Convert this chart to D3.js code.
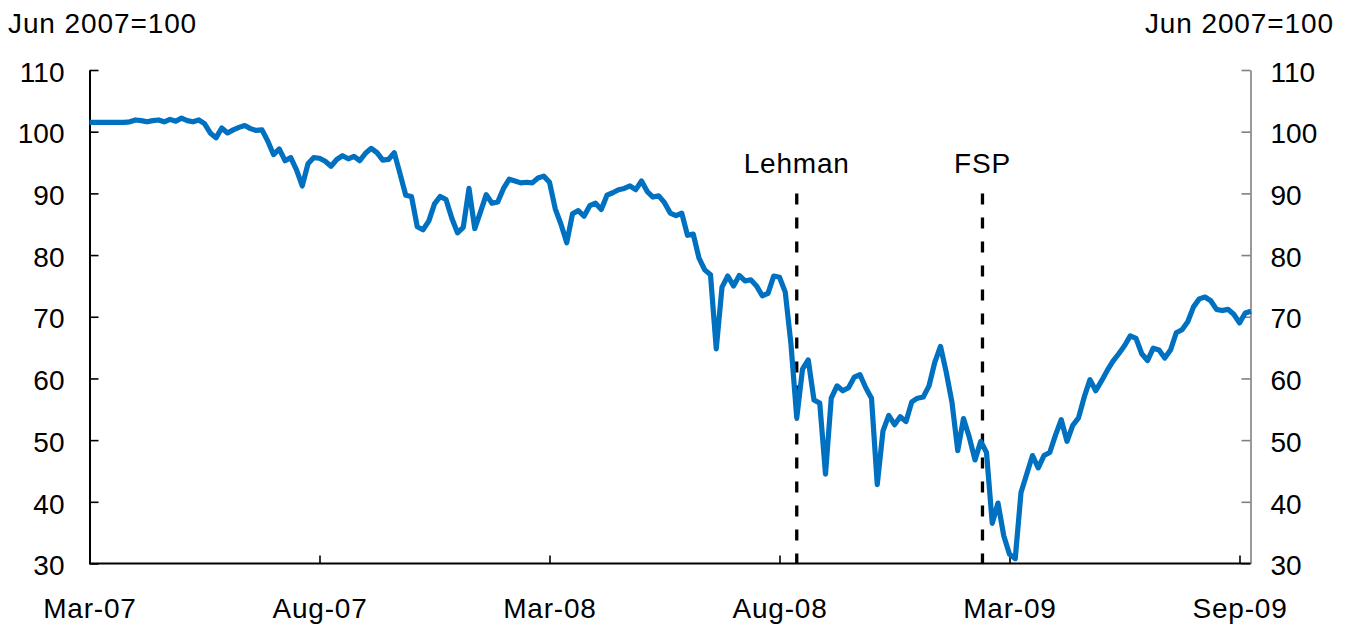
<!DOCTYPE html>
<html>
<head>
<meta charset="utf-8">
<script src="https://cdn.jsdelivr.net/npm/d3@7"></script>
<style>
  body { margin: 0; background: #fff; }
  svg text { font-family: "Liberation Sans", Arial, sans-serif; fill: #000; }
</style>
</head>
<body>
<div class="chart-container"></div>
<script>
// index values, Jun 2007 = 100 (one value per step along the category axis)
var indexValues = [
  101.5, 101.5, 101.5, 101.5, 101.5, 101.5, 101.5, 101.6, 101.9, 101.8,
  101.6, 101.8, 101.9, 101.6, 102.0, 101.7, 102.2, 101.8, 101.6, 101.9,
  101.3, 99.8, 99.0, 100.6, 99.8, 100.3, 100.7, 101.0, 100.5, 100.2,
  100.3, 98.5, 96.3, 97.2, 95.3, 95.8, 93.8, 91.2, 94.8, 95.8,
  95.7, 95.2, 94.4, 95.5, 96.1, 95.6, 96.0, 95.3, 96.5, 97.3,
  96.6, 95.4, 95.5, 96.6, 93.2, 89.7, 89.5, 84.6, 84.1, 85.5,
  88.3, 89.5, 89.0, 86.0, 83.6, 84.5, 90.8, 84.3, 87.0, 89.8,
  88.4, 88.6, 90.8, 92.3, 92.0, 91.7, 91.8, 91.7, 92.5, 92.8,
  91.8, 87.5, 85.0, 82.0, 86.7, 87.2, 86.3, 88.0, 88.4, 87.4,
  89.7, 90.1, 90.6, 90.8, 91.2, 90.6, 92.0, 90.3, 89.4, 89.6,
  88.5, 86.8, 86.4, 86.8, 83.2, 83.4, 79.5, 77.6, 76.8, 64.8,
  74.8, 76.6, 75.0, 76.7, 75.8, 76.0, 75.0, 73.4, 73.8, 76.6,
  76.4, 74.0, 65.5, 53.6, 61.5, 63.0, 56.5, 56.0, 44.5, 56.8,
  58.8, 58.0, 58.5, 60.2, 60.6, 58.5, 56.8, 42.8, 51.5, 54.0,
  52.5, 53.8, 53.0, 56.2, 56.8, 57.0, 58.8, 62.6, 65.2, 61.0,
  56.1, 48.3, 53.5, 50.5, 46.8, 49.8, 48.0, 36.5, 39.8, 34.5,
  31.5, 30.8, 41.5, 44.5, 47.5, 45.5, 47.5, 48.0, 50.8, 53.3,
  49.8, 52.4, 53.6, 57.0, 59.8, 58.0, 59.6, 61.3, 62.8, 64.0,
  65.3, 66.9, 66.5, 64.0, 62.9, 64.9, 64.6, 63.3, 64.6, 67.4,
  67.9, 69.2, 71.6, 72.9, 73.2, 72.6, 71.2, 71.0, 71.2, 70.4,
  69.0, 70.6, 70.9
];

// category axis labels and the step at which each one sits
var tickLabels = ["Mar-07", "Aug-07", "Mar-08", "Aug-08", "Mar-09", "Sep-09"];
var tickSteps = [0, 40, 80, 120, 160, 200];

var yTicks = [30, 40, 50, 60, 70, 80, 90, 100, 110];

// event markers
var eventNames = ["Lehman", "FSP"];
var eventSteps = [123, 155.3];
var eventTop = 90;

var unitLabel = "Jun 2007=100";

function buildChart() {

  // -------------------------------------------------------------------------
  // ---------------------------- LAYOUT -------------------------------------
  // -------------------------------------------------------------------------

  var width = 1349,
      height = 627,
      plotLeft = 89.5,
      plotRight = 1250.5,
      plotTop = 70,
      plotBottom = 563.5,
      fontSize = 28;

  var svg = d3.select(".chart-container").append("svg")
      .attr("width", width)
      .attr("height", height);

  var xScale = d3.scaleLinear().domain([0, 200]).range([plotLeft, 1239.5]);
  var yScale = d3.scaleLinear().domain([30, 110]).range([plotBottom, plotTop]);

  // left axis
  var yaxisLeft = d3.axisLeft(yScale)
      .tickValues(yTicks)
      .tickSizeInner(-9)
      .tickSizeOuter(0)
      .tickPadding(25);

  var gl = svg.append("g")
      .attr("transform", "translate(" + plotLeft + ",0)")
      .call(yaxisLeft);
  gl.select(".domain").attr("stroke", "#000").attr("stroke-width", 2);
  gl.selectAll(".tick line").attr("stroke", "#000").attr("stroke-width", 1.6);
  gl.selectAll(".tick text")
      .attr("dy", "0.4em")
      .style("font-size", fontSize + "px");

  // right axis
  var yaxisRight = d3.axisRight(yScale)
      .tickValues(yTicks)
      .tickSizeInner(-9)
      .tickSizeOuter(0)
      .tickPadding(20);

  var gr = svg.append("g")
      .attr("transform", "translate(" + plotRight + ",0)")
      .call(yaxisRight);
  gr.select(".domain").attr("stroke", "#808080").attr("stroke-width", 1.6);
  gr.selectAll(".tick line").attr("stroke", "#808080").attr("stroke-width", 1.6);
  gr.selectAll(".tick text")
      .attr("dy", "0.4em")
      .style("font-size", fontSize + "px");

  // bottom axis
  var xaxis = d3.axisBottom(xScale)
      .tickValues(tickSteps)
      .tickFormat(function(d, i) { return tickLabels[i]; })
      .tickSizeInner(-8)
      .tickSizeOuter(0)
      .tickPadding(35);

  var gx = svg.append("g")
      .attr("transform", "translate(0," + plotBottom + ")")
      .call(xaxis);
  gx.select(".domain")
      .attr("d", "M" + plotLeft + ",0H" + plotRight)
      .attr("stroke", "#000")
      .attr("stroke-width", 2);
  gx.selectAll(".tick line").attr("stroke", "#000").attr("stroke-width", 1.6);
  gx.selectAll(".tick text")
      .style("font-size", fontSize + "px")
      .style("letter-spacing", "0.8px");

  svg.selectAll(".tick text").attr("fill", "#000");

  // unit labels
  svg.append("text")
      .attr("x", 8)
      .attr("y", 33)
      .style("font-size", fontSize + "px")
      .style("letter-spacing", "0.9px")
      .text(unitLabel);

  svg.append("text")
      .attr("x", 1334)
      .attr("y", 33)
      .attr("text-anchor", "end")
      .style("font-size", fontSize + "px")
      .style("letter-spacing", "0.9px")
      .text(unitLabel);

  // event lines
  var events = svg.selectAll(".event")
      .data(eventNames)
      .enter()
      .append("g")
      .attr("class", "event");

  events.append("line")
      .attr("x1", function(d, i) { return xScale(eventSteps[i]); })
      .attr("x2", function(d, i) { return xScale(eventSteps[i]); })
      .attr("y1", yScale(eventTop))
      .attr("y2", plotBottom)
      .attr("stroke", "#000")
      .attr("stroke-width", 3.3)
      .attr("stroke-dasharray", "11,13");

  events.append("text")
      .attr("x", function(d, i) { return xScale(eventSteps[i]); })
      .attr("y", 173)
      .attr("text-anchor", "middle")
      .style("font-size", fontSize + "px")
      .style("letter-spacing", "0.8px")
      .text(function(d) { return d; });

  // the series
  var line = d3.line()
      .x(function(d, i) { return xScale(i); })
      .y(function(d) { return yScale(d); });

  svg.append("path")
      .datum(indexValues)
      .attr("fill", "none")
      .attr("stroke", "#0070C0")
      .attr("stroke-width", 5.2)
      .attr("stroke-linejoin", "round")
      .attr("d", line);
}

buildChart();
</script>
</body>
</html>
